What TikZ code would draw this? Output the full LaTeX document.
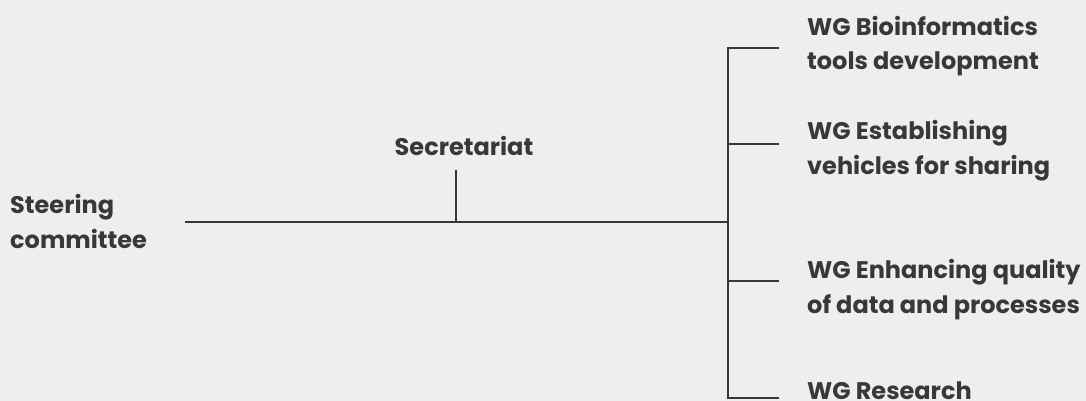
\documentclass[tikz,border=0pt]{standalone}
\usepackage{fontspec}
\setmainfont{Poppins}
\definecolor{ink}{HTML}{383838}
\definecolor{paper}{HTML}{EEEEEC}
\begin{document}
\begin{tikzpicture}[x=1pt,y=-1pt,
  lbl/.style={inner sep=0pt,anchor=base west,align=left,text=ink,
    font=\fontsize{24}{34.5}\selectfont\bfseries},
  wire/.style={draw=ink,line width=2.6pt}]
\fill[paper] (0,0) rectangle (1086,401);
\useasboundingbox (0,0) rectangle (1086,401);
% nodes (anchor = baseline of the last line)
\node[lbl] (sc) at (10,248) {Steering\\committee};
\node[lbl,anchor=base] (sec) at (464,155) {Secretariat};
\node[lbl] (w1) at (807,70) {WG Bioinformatics\\tools development};
\node[lbl] (w2) at (807,174) {WG Establishing\\vehicles for sharing};
\node[lbl] (w3) at (807,313) {WG Enhancing quality\\of data and processes};
\node[lbl] (w4) at (807,399) {WG Research};
% coordinates
\coordinate (a) at (185,222);
\coordinate (j) at (456,222);
\coordinate (st) at (456,170);
\coordinate (bt) at (728,48);
\coordinate (bm) at (728,222);
\coordinate (bb) at (728,398);
\coordinate (e1) at (779,48);
\coordinate (e2) at (779,144);
\coordinate (e3) at (779,281);
\coordinate (e4) at (779,398);
% connectors
\draw[wire] (a) -- (bm);
\draw[wire] (st) -- (j);
\draw[wire] (e1) -- (bt) -- (bb) -- (e4);
\draw[wire] (bt |- e2) -- (e2);
\draw[wire] (bt |- e3) -- (e3);
\end{tikzpicture}
\end{document}
